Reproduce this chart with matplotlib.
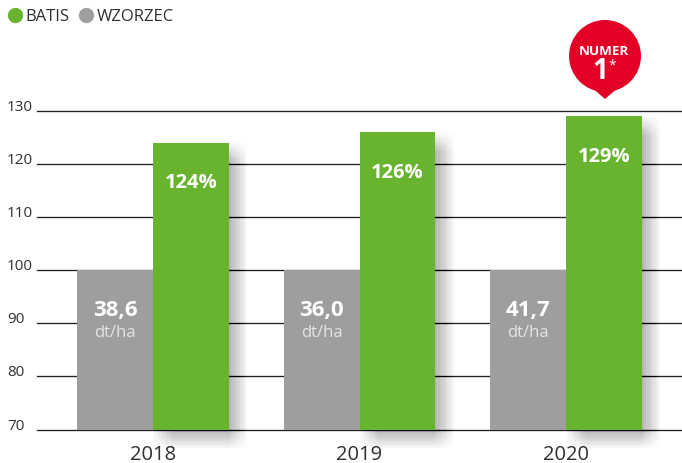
import matplotlib
matplotlib.use('Agg')
import matplotlib.pyplot as plt
import matplotlib.patheffects as pe
from matplotlib.lines import Line2D
from matplotlib.patches import Circle, Polygon
from matplotlib.transforms import IdentityTransform

years = ['2018', '2019', '2020']
wzorzec = [100, 100, 100]
batis = [124, 126, 129]
batis_labels = ['124%', '126%', '129%']
wzorzec_labels = ['38,6', '36,0', '41,7']
unit = 'dt/ha'
y_ticks = [70, 80, 90, 100, 110, 120, 130]

GREEN = '#69b42e'
GREY = '#9d9e9d'
RED = '#e30026'
DARK = '#2f3033'

plt.rcParams['font.family'] = ['Open Sans', 'DejaVu Sans']

W, H = 682, 463
fig = plt.figure(figsize=(W / 100, H / 100), dpi=100)
ax = fig.add_axes([37 / W, (H - 429.5) / H, (W - 37) / W, (429.5 - 111) / H])

x = list(range(len(years)))
bar_w = 0.366

# soft shadow on the green bars, built from many faint offset copies
shadow = []
for dx in range(0, 17, 2):
    for dy in range(0, 17, 2):
        shadow.append(pe.withSimplePatchShadow(offset=(dx * 0.85, -dy * 0.85),
                                               shadow_rgbFace='black', alpha=0.0035))
shadow.append(pe.Normal())

for i in x:
    ax.bar(i + bar_w / 2, batis[i] - 70, bar_w, bottom=70, color=GREEN, zorder=3,
           clip_on=False, path_effects=shadow)
    ax.bar(i - bar_w / 2, wzorzec[i] - 70, bar_w, bottom=70, color=GREY, zorder=4,
           clip_on=False)
    ax.annotate(batis_labels[i], (i + bar_w / 2, batis[i]), xytext=(0, -29), textcoords='offset points',
                ha='center', va='center', color='white', fontsize=14.5, fontweight='bold', zorder=5)
    ax.annotate(wzorzec_labels[i], (i - bar_w / 2, wzorzec[i]), xytext=(0, -29), textcoords='offset points',
                ha='center', va='center', color='white', fontsize=16, fontweight='bold', zorder=5)
    ax.annotate(unit, (i - bar_w / 2, wzorzec[i]), xytext=(0, -45.5), textcoords='offset points',
                ha='center', va='center', color='#e4e4e4', fontsize=12, zorder=5)

ax.set_xlim(-0.562, 2.562)
ax.set_ylim(70, 130)
ax.set_xticks(x)
ax.set_xticklabels(years, fontsize=14.5, color=DARK)
ax.set_yticks(y_ticks)
ax.set_yticklabels([str(v) for v in y_ticks], fontsize=11, color=DARK, ha='left', va='baseline')
ax.tick_params(axis='y', length=0, pad=21.5)
ax.tick_params(axis='x', length=0, pad=11)
ax.grid(axis='y', color='#222222', linewidth=0.95, zorder=1, clip_on=False)
ax.set_axisbelow(True)
for s in ax.spines.values():
    s.set_visible(False)

# legend
handles = [Line2D([], [], marker='o', ls='', ms=10, color=GREEN),
           Line2D([], [], marker='o', ls='', ms=10, color=GREY)]
fig.legend(handles, ['BATIS', 'WZORZEC'], loc='center left', bbox_to_anchor=(2 / W, 1 - 17 / H),
           ncol=2, frameon=False, fontsize=12, labelcolor=DARK, handletextpad=-0.12,
           columnspacing=0.27, borderpad=0, borderaxespad=0, handlelength=1.5)

# red "numer 1" bubble, in pixels
tr = IdentityTransform()
fig.add_artist(Circle((605, H - 56), 36, color=RED, transform=tr, lw=0))
fig.add_artist(Polygon([(590, H - 86), (620, H - 86), (605, H - 99)], closed=True, color=RED, transform=tr, lw=0))
fig.text(604 / W, 1 - 55 / H, 'NUMER', color='white', fontsize=9.6, fontweight='bold', ha='center', va='baseline')
fig.text(600 / W, 1 - 79 / H, '1', color='white', fontsize=20, fontweight='bold', ha='center', va='baseline')
fig.text(612 / W, 1 - 69 / H, '*', color='white', fontsize=10, ha='center', va='baseline')

fig.savefig('out.png', dpi=100)
